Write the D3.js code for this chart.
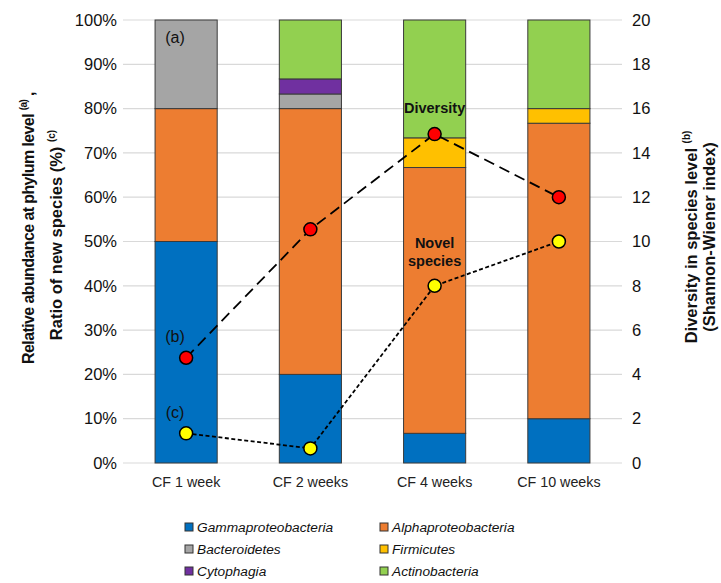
<!DOCTYPE html>
<html>
<head>
<meta charset="utf-8">
<script src="https://cdn.jsdelivr.net/npm/d3@7"></script>
<style>
  body { margin: 0; background: #fff; }
  svg { font-family: "Liberation Sans", Arial, sans-serif; }
</style>
</head>
<body>
<svg width="721" height="583"></svg>
<script>
// Data
const categories = ["CF 1 week", "CF 2 weeks", "CF 4 weeks", "CF 10 weeks"];
const phyla = ["Gammaproteobacteria", "Alphaproteobacteria", "Bacteroidetes", "Firmicutes", "Cytophagia", "Actinobacteria"];
const gamma = [50, 20, 6.7, 10];
const alpha = [30, 60, 60, 66.7];
const bacteroidetes = [20, 3.3, 0, 0];
const firmicutes = [0, 0, 6.7, 3.3];
const cytophagia = [0, 3.4, 0, 0];
const actinobacteria = [0, 13.3, 26.6, 20];
const diversity = [4.75, 10.55, 14.85, 12.0];      // right axis
const novelSpecies = [6.7, 3.3, 40, 50];            // left axis (%)
const leftTicks = [0, 10, 20, 30, 40, 50, 60, 70, 80, 90, 100];
const rightTicks = [0, 2, 4, 6, 8, 10, 12, 14, 16, 18, 20];

const colors = {
  Gammaproteobacteria: "#0070C0",
  Alphaproteobacteria: "#ED7D31",
  Bacteroidetes: "#A5A5A5",
  Firmicutes: "#FFC000",
  Cytophagia: "#7030A0",
  Actinobacteria: "#92D050"
};

// build table for stacking
const series = [gamma, alpha, bacteroidetes, firmicutes, cytophagia, actinobacteria];
const table = categories.map((c, i) => {
  const row = { cat: c };
  phyla.forEach((p, j) => row[p] = series[j][i]);
  return row;
});

const svg = d3.select("svg");
const plotLeft = 124, plotRight = 621, plotTop = 20, plotBottom = 463;

const x = d3.scaleBand().domain(categories).range([plotLeft, plotRight])
  .paddingInner(0.5).paddingOuter(0.25);
const y = d3.scaleLinear().domain([0, 100]).range([plotBottom, plotTop]);
const y2 = d3.scaleLinear().domain([0, 20]).range([plotBottom, plotTop]);

// gridlines
svg.append("g")
  .selectAll("line")
  .data(leftTicks)
  .enter()
  .append("line")
  .attr("x1", plotLeft - 1)
  .attr("x2", plotRight + 1)
  .attr("y1", d => y(d))
  .attr("y2", d => y(d))
  .attr("stroke", "#d9d9d9")
  .attr("stroke-width", 1.2);

// axes (labels only)
const leftAxis = svg.append("g")
  .attr("transform", `translate(${plotLeft - 4},0)`)
  .call(d3.axisLeft(y).tickValues(leftTicks).tickFormat(d => d + "%").tickSize(0));
const rightAxis = svg.append("g")
  .attr("transform", `translate(${plotRight + 8},0)`)
  .call(d3.axisRight(y2).tickValues(rightTicks).tickSize(0));
[leftAxis, rightAxis].forEach(a => {
  a.select(".domain").remove();
  a.selectAll("text").style("font-size", "16.5px").attr("fill", "#111");
});

const xAxis = svg.append("g")
  .attr("transform", `translate(0,${plotBottom})`)
  .call(d3.axisBottom(x).tickSize(0).tickPadding(14));
xAxis.select(".domain").remove();
xAxis.selectAll("text").style("font-size", "14.3px").attr("fill", "#222");

// stacked bars
const stack = d3.stack().keys(phyla)(table);
svg.append("g")
  .selectAll("g")
  .data(stack)
  .enter()
  .append("g")
  .attr("fill", d => colors[d.key])
  .selectAll("rect")
  .data(d => d.filter(s => s[1] - s[0] > 0))
  .enter()
  .append("rect")
  .attr("x", d => x(d.data.cat))
  .attr("y", d => y(d[1]))
  .attr("width", x.bandwidth())
  .attr("height", d => y(d[0]) - y(d[1]))
  .attr("stroke", "#3a3a3a")
  .attr("stroke-width", 1);

// lines
const cx = c => x(c) + x.bandwidth() / 2;
const divLine = d3.line().x((d, i) => cx(categories[i])).y(d => y2(d));
const novLine = d3.line().x((d, i) => cx(categories[i])).y(d => y(d));

svg.append("path")
  .datum(diversity)
  .attr("d", divLine)
  .attr("fill", "none")
  .attr("stroke", "#000")
  .attr("stroke-width", 1.8)
  .attr("stroke-dasharray", "11,6");

svg.append("path")
  .datum(novelSpecies)
  .attr("d", novLine)
  .attr("fill", "none")
  .attr("stroke", "#000")
  .attr("stroke-width", 1.8)
  .attr("stroke-dasharray", "4,2.5");

svg.append("g")
  .selectAll("circle")
  .data(diversity)
  .enter()
  .append("circle")
  .attr("cx", (d, i) => cx(categories[i]))
  .attr("cy", d => y2(d))
  .attr("r", 6.5)
  .attr("fill", "#FF0000")
  .attr("stroke", "#000")
  .attr("stroke-width", 1.5);

svg.append("g")
  .selectAll("circle")
  .data(novelSpecies)
  .enter()
  .append("circle")
  .attr("cx", (d, i) => cx(categories[i]))
  .attr("cy", d => y(d))
  .attr("r", 6.5)
  .attr("fill", "#FFFF00")
  .attr("stroke", "#000")
  .attr("stroke-width", 1.5);

// annotations
const note = (t, px, py, bold) => svg.append("text")
  .attr("x", px).attr("y", py)
  .attr("text-anchor", "middle")
  .style("font-size", bold ? "14.5px" : "16px")
  .style("font-weight", bold ? "bold" : "normal")
  .attr("fill", "#111")
  .text(t);
note("(a)", 175, 43);
note("(b)", 175, 342);
note("(c)", 175, 418);
note("Diversity", cx(categories[2]), 113, true);
note("Novel", cx(categories[2]), 248, true);
note("species", cx(categories[2]), 266, true);

// axis titles
const titleFont = "16.5px";
const leftTitle1 = svg.append("text")
  .attr("transform", "translate(34,228) rotate(-90)")
  .attr("text-anchor", "middle")
  .style("font-size", "16px").style("letter-spacing", "-0.6px")
  .style("font-weight", "bold").attr("fill", "#111");
leftTitle1.append("tspan").text("Relative abundance at phylum level ");
leftTitle1.append("tspan").attr("dy", -7).style("font-size", "10px").text("(a)");
leftTitle1.append("tspan").attr("dy", 7).text(" ,");

const leftTitle2 = svg.append("text")
  .attr("transform", "translate(62,235) rotate(-90)")
  .attr("text-anchor", "middle")
  .style("font-size", titleFont).style("font-weight", "bold").attr("fill", "#111");
leftTitle2.append("tspan").text("Ratio of new species (%) ");
leftTitle2.append("tspan").attr("dy", -7).style("font-size", "10px").text("(c)");

const rightTitle1 = svg.append("text")
  .attr("transform", "translate(697,237) rotate(-90)")
  .attr("text-anchor", "middle")
  .style("font-size", titleFont).style("font-weight", "bold").attr("fill", "#111");
rightTitle1.append("tspan").text("Diversity in species level ");
rightTitle1.append("tspan").attr("dy", -7).style("font-size", "10px").text("(b)");

svg.append("text")
  .attr("transform", "translate(715,237) rotate(-90)")
  .attr("text-anchor", "middle")
  .style("font-size", titleFont).style("font-weight", "bold").attr("fill", "#111")
  .text("(Shannon-Wiener index)");

// legend
const legendOrder = ["Gammaproteobacteria", "Alphaproteobacteria", "Bacteroidetes", "Firmicutes", "Cytophagia", "Actinobacteria"];
const legend = svg.append("g")
  .selectAll("g")
  .data(legendOrder)
  .enter()
  .append("g")
  .attr("transform", (d, i) => `translate(${i % 2 === 0 ? 189 : 384},${527 + Math.floor(i / 2) * 22})`);
legend.append("rect")
  .attr("x", -4).attr("y", -4)
  .attr("width", 8).attr("height", 8)
  .attr("fill", d => colors[d])
  .attr("stroke", "#333")
  .attr("stroke-width", 1);
legend.append("text")
  .attr("x", 8).attr("y", 5)
  .style("font-size", "13.7px")
  .style("font-style", "italic")
  .attr("fill", "#111")
  .text(d => d);
</script>
</body>
</html>
